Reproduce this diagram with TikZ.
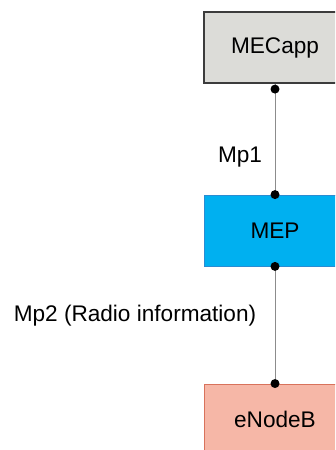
\documentclass[tikz,border=0pt]{standalone}
\usepackage{fontspec}
\setmainfont{Liberation Sans}
\definecolor{appfill}{HTML}{DCDCD8}
\definecolor{appline}{HTML}{3C3C3C}
\definecolor{mepfill}{HTML}{00B0F0}
\definecolor{mepline}{HTML}{2A8CD2}
\definecolor{enbfill}{HTML}{F6B7A7}
\definecolor{enbline}{HTML}{D8725C}
\definecolor{linkgray}{HTML}{8C8C8C}
\begin{document}
\begin{tikzpicture}[x=1pt,y=1pt,
  entity/.style={rectangle, minimum width=142pt, minimum height=71pt,
    inner sep=0pt, font=\fontsize{22.6}{27}\selectfont},
  link/.style={draw=linkgray, line width=0.9pt},
  dotmark/.style={circle, fill=black, inner sep=0pt, minimum size=9pt},
  lbl/.style={font=\fontsize{22.6}{27}\selectfont, inner sep=0pt}]
  \useasboundingbox (0,0) rectangle (335,-450);
  \clip (0,0) rectangle (335,-450);
  % functional entities
  \node[entity, fill=appfill, draw=appline, line width=1.2pt] (mecapp) at (275,-47.5) {MECapp};
  \node[entity, fill=mepfill, draw=mepline, line width=0.8pt] (mep) at (275,-230.5) {MEP};
  \node[entity, fill=enbfill, draw=enbline, line width=0.9pt] (enb) at (275,-419.5) {eNodeB};
  % reference points
  \draw[link] (mecapp.south) -- (mep.north);
  \draw[link] (mep.south) -- (enb.north);
  \node[dotmark] (d1) at ([yshift=-5.5pt]mecapp.south) {};
  \node[dotmark] (d2) at (mep.north) {};
  \node[dotmark] (d3) at (mep.south) {};
  \node[dotmark] (d4) at (enb.north) {};
  \node[lbl] (mp1) at (240,-157) {Mp1};
  \node[lbl] (mp2) at (135,-316) {Mp2 (Radio information)};
\end{tikzpicture}
\end{document}
